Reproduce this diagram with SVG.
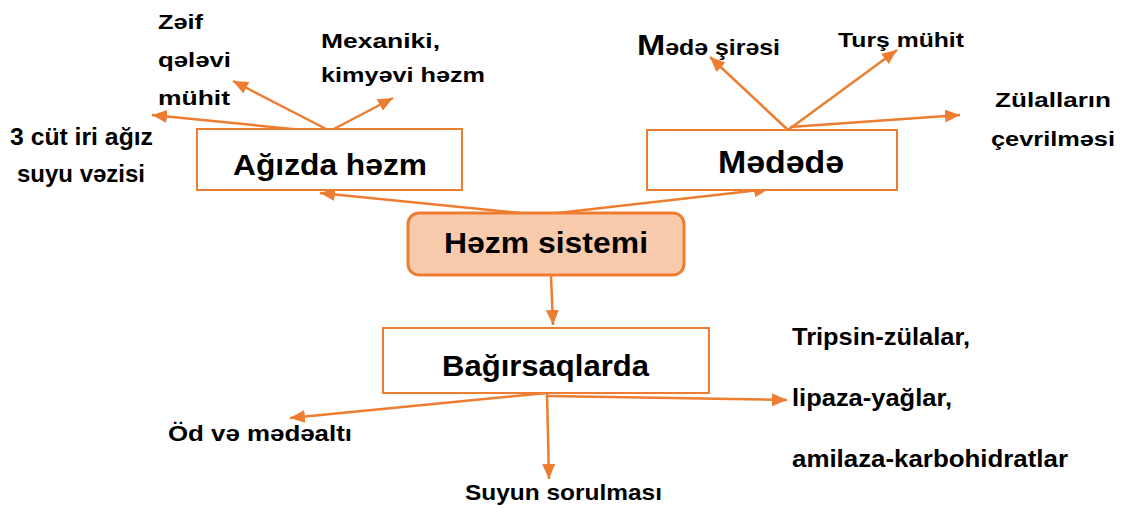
<svg xmlns="http://www.w3.org/2000/svg" width="1121" height="508" viewBox="0 0 1121 508">
<style>
text{font-family:"Liberation Sans",Arial,sans-serif;font-weight:bold;fill:#000}
.box{fill:#fff;stroke:#ED7D31;stroke-width:2}
.root{fill:#F8CBAD;stroke:#ED7D31;stroke-width:3}
.c{fill:none;stroke:#ED7D31;stroke-width:2.5;marker-end:url(#ah)}
.big{font-size:30px}
.s20{font-size:20px}
.s22{font-size:22px}
.s23{font-size:23px}
</style>
<defs>
<marker id="ah" markerUnits="userSpaceOnUse" markerWidth="16" markerHeight="14" refX="15" refY="6.5" orient="auto">
<path d="M0,0 L15,6.5 L0,13 z" fill="#ED7D31"/>
</marker>
</defs>
<rect width="1121" height="508" fill="#fff"/>
<g id="connectors">
<line class="c" x1="540" y1="215" x2="320" y2="193"/>
<line class="c" x1="540" y1="215" x2="769" y2="189"/>
<line class="c" x1="551" y1="276" x2="553" y2="325"/>
<line class="c" x1="330" y1="131" x2="233" y2="81"/>
<line class="c" x1="330" y1="131" x2="393" y2="98"/>
<line class="c" x1="333" y1="133" x2="152" y2="115"/>
<line class="c" x1="788" y1="130" x2="710" y2="57"/>
<line class="c" x1="788" y1="130" x2="897" y2="50"/>
<line class="c" x1="790" y1="127" x2="960" y2="115"/>
<line class="c" x1="547" y1="393" x2="290" y2="418"/>
<line class="c" x1="547" y1="393" x2="549" y2="479"/>
<line class="c" x1="548" y1="396" x2="787" y2="400"/>
</g>
<g id="root">
<rect class="root" x="408" y="213" width="276" height="62" rx="11"/>
<text class="big" x="444" y="253" textLength="204" lengthAdjust="spacingAndGlyphs">Həzm sistemi</text>
</g>
<g id="agizda">
<rect class="box" x="197" y="129" width="265" height="61"/>
<text class="big" x="233" y="175" textLength="194" lengthAdjust="spacingAndGlyphs">Ağızda həzm</text>
</g>
<g id="mede">
<rect class="box" x="647" y="130" width="250" height="60"/>
<text class="big" x="718" y="173" textLength="126" lengthAdjust="spacingAndGlyphs" style="font-size:32px">Mədədə</text>
</g>
<g id="bagirsaq">
<rect class="box" x="383" y="328" width="326" height="65"/>
<text class="big" x="442" y="376" textLength="207" lengthAdjust="spacingAndGlyphs">Bağırsaqlarda</text>
</g>
<g id="zeif">
<text class="s20" x="158" y="29" textLength="45" lengthAdjust="spacingAndGlyphs">Zəif</text>
<text class="s20" x="158" y="67" textLength="73" lengthAdjust="spacingAndGlyphs">qələvi</text>
<text class="s20" x="158" y="105" textLength="72" lengthAdjust="spacingAndGlyphs">mühit</text>
</g>
<g id="mexaniki">
<text class="s20" x="321" y="48" textLength="119" lengthAdjust="spacingAndGlyphs">Mexaniki,</text>
<text class="s20" x="321" y="82" textLength="164" lengthAdjust="spacingAndGlyphs">kimyəvi həzm</text>
</g>
<g id="cut">
<text class="s23" x="10" y="145" textLength="143" lengthAdjust="spacingAndGlyphs">3 cüt iri ağız</text>
<text class="s23" x="17" y="182" textLength="128" lengthAdjust="spacingAndGlyphs">suyu vəzisi</text>
</g>
<g id="sire">
<text x="637" y="55" textLength="143" lengthAdjust="spacingAndGlyphs"><tspan style="font-size:30px">M</tspan><tspan style="font-size:22px">ədə şirəsi</tspan></text>
</g>
<g id="turs">
<text class="s20" x="838" y="47" textLength="126" lengthAdjust="spacingAndGlyphs" style="font-size:21px">Turş mühit</text>
</g>
<g id="zulal">
<text x="995" y="107" textLength="116" lengthAdjust="spacingAndGlyphs" style="font-size:21px">Zülalların</text>
<text x="991" y="146" textLength="124" lengthAdjust="spacingAndGlyphs" style="font-size:21px">çevrilməsi</text>
</g>
<g id="fermentler">
<text class="s23" x="792" y="345" textLength="178" lengthAdjust="spacingAndGlyphs">Tripsin-zülalar,</text>
<text class="s23" x="792" y="406" textLength="160" lengthAdjust="spacingAndGlyphs">lipaza-yağlar,</text>
<text class="s23" x="792" y="467" textLength="276" lengthAdjust="spacingAndGlyphs">amilaza-karbohidratlar</text>
</g>
<g id="od">
<text class="s22" x="168" y="441" textLength="184" lengthAdjust="spacingAndGlyphs">Öd və mədəaltı</text>
</g>
<g id="suyun">
<text class="s22" x="465" y="500" textLength="197" lengthAdjust="spacingAndGlyphs">Suyun sorulması</text>
</g>
</svg>
